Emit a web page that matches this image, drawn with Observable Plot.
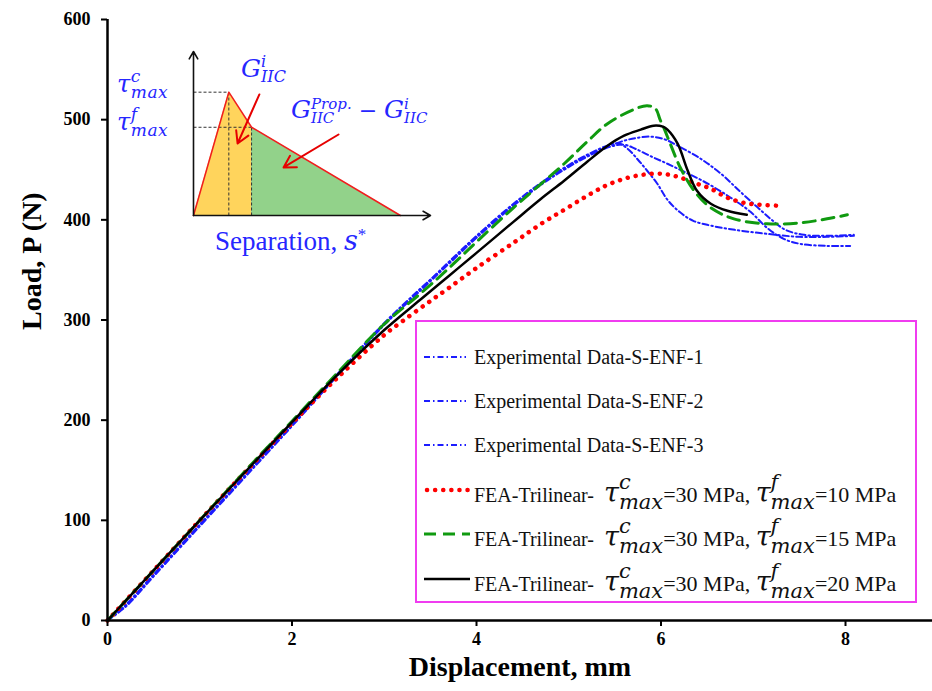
<!DOCTYPE html>
<html><head><meta charset="utf-8">
<script src="https://cdn.jsdelivr.net/npm/d3@7"></script>
<script src="https://cdn.jsdelivr.net/npm/@observablehq/plot@0.6"></script>
<style>
body{margin:0;background:#fff;}
#wrap{position:relative;width:932px;height:691px;overflow:hidden;}
#wrap svg{display:block;}
.abs{position:absolute;white-space:nowrap;}
.serif{font-family:"Liberation Serif","Times New Roman",serif;}
.math{font-family:"DejaVu Serif",serif;font-style:italic;}
.ss{display:inline-block;line-height:0.95;vertical-align:-0.34em;text-align:left;}
.ss>span{display:block;}
.blue{color:#2626ff;}
#legend{position:absolute;left:415px;top:320px;width:502px;height:283px;border:2px solid #f03cf0;box-sizing:border-box;}
.row{position:absolute;left:474px;height:30px;line-height:30px;font-size:20px;color:#111;}
.num{font-size:22px;}
</style></head><body><div id="wrap"></div>
<script>
// ---- data: [displacement (mm), load (N)] ----
const exp1 = [[0,0],[0.2,15],[0.5,45],[1,95],[1.5,145],[2,195],[2.5,246],[3,296],[3.4,331],[3.7,358],[4.0,384],[4.4,416],[4.7,437],[4.95,452],[5.2,465],[5.45,475],[5.55,476],[5.65,470],[5.75,460],[5.85,449],[5.96,436],[6.07,420],[6.2,408],[6.35,399],[6.55,394],[6.8,390],[7.15,386],[7.5,383],[7.8,383],[8.09,384]];
const exp2 = [[0,0],[0.2,16],[0.5,46],[1,96],[1.5,146],[2,196],[2.5,247],[3,297],[3.4,332],[3.7,357],[4.0,383],[4.4,415],[4.7,436],[4.95,451],[5.2,464],[5.45,474],[5.6,479],[5.75,482],[5.9,483],[6.05,480],[6.2,473],[6.43,461],[6.65,446],[6.86,428],[7.04,413],[7.2,400],[7.35,390],[7.55,385],[7.8,384],[8.09,385]];
const exp3 = [[0,0],[0.2,14],[0.5,44],[1,94],[1.5,144],[2,194],[2.5,245],[3,295],[3.4,330],[3.7,356],[4.0,382],[4.4,414],[4.7,435],[4.95,450],[5.2,463],[5.45,473],[5.6,475],[5.72,471],[5.9,463],[6.07,456],[6.25,448],[6.43,440],[6.62,430],[6.79,420],[6.97,408],[7.15,392],[7.33,381],[7.51,376],[7.8,374],[8.05,374]];
const fea10 = [[0,0],[0.5,50],[1,100],[1.5,149],[2,197],[2.5,243],[3,285],[3.2,299],[3.47,317],[3.7,332],[4.0,352],[4.4,377],[4.7,396],[4.95,410],[5.2,424],[5.4,434],[5.6,441],[5.8,445],[6.0,446],[6.18,443],[6.36,437],[6.54,431],[6.72,422],[6.9,417],[7.08,415],[7.3,414]];
const fea15 = [[0,0],[0.5,50],[1,100],[1.5,150],[2,199],[2.5,248],[3,296],[3.4,327],[3.68,350],[4.0,378],[4.4,412],[4.7,436],[4.95,456],[5.2,478],[5.42,496],[5.7,510],[5.85,514],[5.94,511],[5.99,500],[6.03,492],[6.1,476],[6.21,452],[6.36,429],[6.54,412],[6.79,401],[7.15,396],[7.51,397],[7.8,401],[8.02,405]];
const fea20 = [[0,0],[0.5,50],[1,100],[1.5,149],[2,198],[2.5,246],[3,290],[3.4,321],[3.7,344],[4.0,367],[4.4,398],[4.7,421],[4.95,439],[5.2,458],[5.42,474],[5.6,484],[5.78,490],[5.92,494],[6.02,493],[6.07,490],[6.18,476],[6.29,449],[6.39,429],[6.54,416],[6.72,409],[6.93,405]];
const xTicks = [0, 2, 4, 6, 8];
const yTicks = [0, 100, 200, 300, 400, 500, 600];
const xTitle = "Displacement, mm";
const yTitle = "Load, P (N)";
const expLabels = ["Experimental Data-S-ENF-1", "Experimental Data-S-ENF-2", "Experimental Data-S-ENF-3"];
const feaPrefix = "FEA-Trilinear-";
const tauC = [30, 30, 30];
const tauF = [10, 15, 20];
// inset (trilinear traction–separation law), arbitrary units
const insetYellow = [[0,0],[1.49,7.52],[2.45,5.38]];
const insetGreen = [[2.45,5.38],[8.73,0]];
const insetOutline = [[0,0],[1.49,7.52],[2.45,5.38],[8.73,0]];
const insetDashed = [[0,7.52,1.49,7.52],[0,5.38,2.45,5.38],[1.49,0,1.49,7.52],[2.45,0,2.45,5.38]];
const insetAxes = [[0,0,10,0],[0,0,0,10]];
const insetArrows = [[2.78,7.38,1.86,4.39],[6.12,4.94,3.8,2.93]];

// ---- styles ----
const blueStyle = {stroke:"#1c1cff", strokeWidth:2, strokeDasharray:"6,3,1.5,3"};
const redStyle = {stroke:"#ff0000", strokeWidth:4.5, strokeDasharray:"0.1,8", strokeLinecap:"round"};
const greenStyle = {stroke:"#109a10", strokeWidth:3, strokeDasharray:"12,7"};
const blackStyle = {stroke:"#000", strokeWidth:2.5};
const lineOpts = (st) => ({x: d => d[0], y: d => d[1], curve: "catmull-rom", ...st});

const main = Plot.plot({
  width: 932, height: 691,
  marginLeft: 107, marginRight: 0, marginTop: 19, marginBottom: 71,
  style: {fontFamily: '"Liberation Serif","Times New Roman",serif', fontSize: "18px", fontWeight: "bold", color: "#000", background: "#fff", overflow: "visible"},
  x: {domain: [0, 8.943]},
  y: {domain: [0, 600]},
  marks: [
    Plot.line(exp1, lineOpts(blueStyle)),
    Plot.line(exp2, lineOpts(blueStyle)),
    Plot.line(exp3, lineOpts(blueStyle)),
    Plot.line(fea10, lineOpts(redStyle)),
    Plot.line(fea15, lineOpts(greenStyle)),
    Plot.line(fea20, lineOpts(blackStyle)),
    Plot.axisX({ticks: xTicks, tickSize: 6, tickPadding: 6, label: null, strokeWidth: 2}),
    Plot.axisY({ticks: yTicks, tickSize: 6, tickPadding: 11, label: null, strokeWidth: 2}),
    Plot.ruleX([0], {strokeWidth: 2.5}),
    Plot.ruleY([0], {strokeWidth: 2.5}),
    Plot.text([xTitle], {frameAnchor: "bottom", text: d => d, dy: 55, fontSize: 28, fontWeight: "bold"}),
    Plot.text([yTitle], {frameAnchor: "left", text: d => d, rotate: -90, dx: -75, dy: 10, fontSize: 28, fontWeight: "bold"})
  ]
});
const wrap = document.getElementById("wrap");
wrap.appendChild(main);

// ---- inset diagram ----
const inset = Plot.plot({
  width: 260, height: 185,
  marginLeft: 10, marginRight: 13, marginTop: 11, marginBottom: 10,
  x: {domain: [0, 10], axis: null},
  y: {domain: [0, 10], axis: null},
  style: {background: "transparent", overflow: "visible"},
  marks: [
    Plot.areaY(insetYellow, {x: d => d[0], y: d => d[1], fill: "#ffd45c"}),
    Plot.areaY(insetGreen, {x: d => d[0], y: d => d[1], fill: "#92d28a"}),
    Plot.link(insetDashed, {x1: d => d[0], y1: d => d[1], x2: d => d[2], y2: d => d[3], stroke: "#333", strokeWidth: 1, strokeDasharray: "3,2"}),
    Plot.line(insetOutline, {x: d => d[0], y: d => d[1], stroke: "#f01e1e", strokeWidth: 1.5}),
    Plot.arrow(insetAxes, {x1: d => d[0], y1: d => d[1], x2: d => d[2], y2: d => d[3], stroke: "#111", strokeWidth: 1.6, headLength: 8}),
    Plot.arrow(insetArrows, {x1: d => d[0], y1: d => d[1], x2: d => d[2], y2: d => d[3], stroke: "#e60000", strokeWidth: 2, headLength: 10})
  ]
});
inset.style.position = "absolute";
inset.style.left = "183px";
inset.style.top = "40px";
wrap.appendChild(inset);

// ---- HTML text helpers ----
function addDiv(html, left, top, cls, style) {
  const d = document.createElement("div");
  d.className = "abs " + (cls || "");
  d.style.left = left + "px"; d.style.top = top + "px";
  if (style) Object.assign(d.style, style);
  d.innerHTML = html;
  wrap.appendChild(d);
  return d;
}
const stack = (sup, sub, size) => `<span class="ss" style="font-size:${size}px"><span>${sup}</span><span>${sub}</span></span>`;

// inset labels
addDiv(`<span style="font-size:24px">τ</span>${stack("c", "max", 17)}`, 117, 68, "math blue", {lineHeight: "28px", letterSpacing: "0.5px"});
addDiv(`<span style="font-size:24px">τ</span>${stack("f", "max", 17)}`, 117, 106, "math blue", {lineHeight: "28px", letterSpacing: "0.5px"});
addDiv(`<span style="font-size:25px">G</span>${stack("i", "IIC", 16)}`, 241, 54, "math blue", {lineHeight: "30px"});
addDiv(`<span style="font-size:25px">G</span>${stack("Prop.", "IIC", 15)}<span style="font-style:normal;font-size:22px"> − </span><span style="font-size:25px">G</span>${stack("i", "IIC", 15)}`, 291, 95, "math blue", {lineHeight: "30px"});
addDiv(`Separation, <span style="font-family:'DejaVu Serif',serif;font-style:italic">s</span><sup style="font-size:17px">*</sup>`, 215, 219, "serif blue", {fontSize: "27px", lineHeight: "32px"});

// legend
const lg = document.createElement("div"); lg.id = "legend"; wrap.appendChild(lg);
function swatch(st, top, len) {
  const svg = d3.create("svg").attr("width", len).attr("height", 10)
    .style("position", "absolute").style("left", "424px").style("top", (top - 5) + "px");
  svg.append("line").attr("x1", st.strokeLinecap ? 3 : 0).attr("x2", len).attr("y1", 5).attr("y2", 5)
    .attr("stroke", st.stroke).attr("stroke-width", st.strokeWidth)
    .attr("stroke-dasharray", st.strokeDasharray || null).attr("stroke-linecap", st.strokeLinecap || null);
  wrap.appendChild(svg.node());
}
const expRows = [357, 401, 445];
expLabels.forEach((t, i) => {
  swatch(blueStyle, expRows[i], 42);
  addDiv(t, 474, expRows[i] - 15, "serif row");
});
const feaRows = [490, 534, 579];
const feaStyles = [redStyle, greenStyle, blackStyle];
tauF.forEach((f, i) => {
  swatch(feaStyles[i], feaRows[i], 46);
  const m = (sup) => `<span class="math" style="font-size:27px">τ</span><span class="math">${stack(sup, "max", 21)}</span>`;
  addDiv(`${feaPrefix}&nbsp;&nbsp;${m("c")}<span class="num">=${tauC[i]} MPa, </span>${m("f")}<span class="num">=${f} MPa</span>`, 474, feaRows[i] - 17, "serif row", {height: "34px", lineHeight: "34px"});
});
</script>
</body></html>
